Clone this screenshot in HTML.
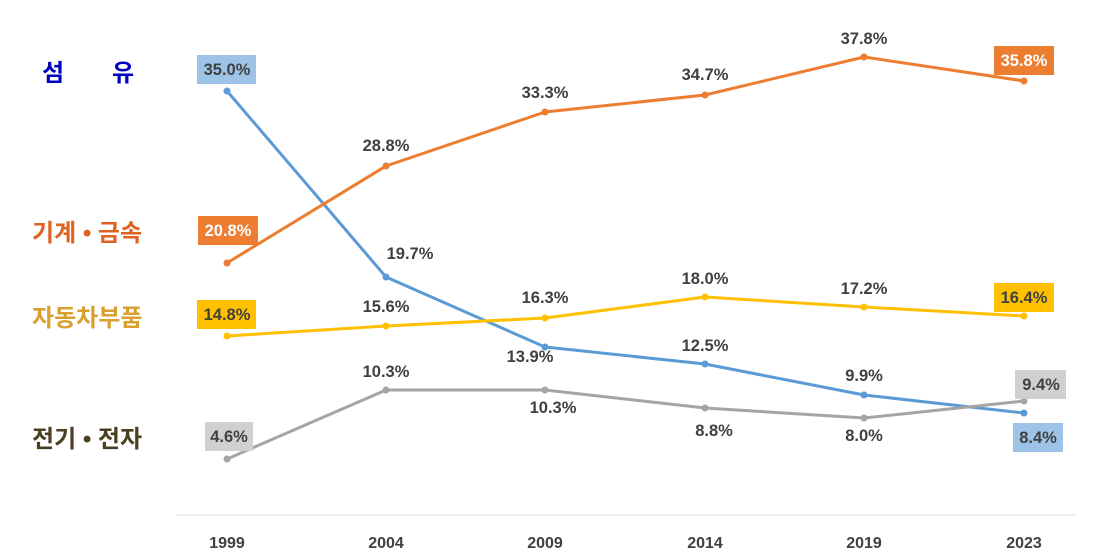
<!DOCTYPE html>
<html><head><meta charset="utf-8"><style>
html,body{margin:0;padding:0;background:#fff;}
svg{display:block;}
text{font-family:"Liberation Sans","Noto Sans CJK KR",sans-serif;font-weight:bold;}
.v{font-size:16.5px;fill:#404040;text-anchor:middle;}
.w{font-size:16.5px;fill:#fff;text-anchor:middle;}
.c{font-size:24px;}
.x{font-size:16px;fill:#404040;text-anchor:middle;}
</style></head><body>
<svg width="1117" height="557" viewBox="0 0 1117 557">
<line x1="176" y1="515" x2="1076" y2="515" stroke="#d9d9d9" stroke-width="1"/>
<g class="x">
<text x="227" y="548">1999</text><text x="386" y="548">2004</text><text x="545" y="548">2009</text>
<text x="705" y="548">2014</text><text x="864" y="548">2019</text><text x="1024" y="548">2023</text>
</g>
<text class="c" x="42" y="81" fill="#0000c0">섬</text>
<text class="c" x="112" y="81" fill="#0000c0">유</text>
<text class="c" x="32" y="241" fill="#e0621e">기계 • 금속</text>
<text class="c" x="32" y="326" fill="#d9a030">자동차부품</text>
<text class="c" x="32" y="447" fill="#4a3f20">전기 • 전자</text>
<g fill="none" stroke-width="3" stroke-linejoin="round">
<polyline stroke="#5b9bd5" points="227,91 386,277 545,347 705,364 864,395 1024,413"/>
<polyline stroke="#ed7d31" points="227,263 386,166 545,112 705,95 864,57 1024,81"/>
<polyline stroke="#ffc000" points="227,336 386,326 545,318 705,297 864,307 1024,316"/>
<polyline stroke="#a5a5a5" points="227,459 386,390 545,390 705,408 864,418 1024,401"/>
</g>
<g fill="#5b9bd5"><circle cx="227" cy="91" r="3.5"/><circle cx="386" cy="277" r="3.5"/><circle cx="545" cy="347" r="3.5"/><circle cx="705" cy="364" r="3.5"/><circle cx="864" cy="395" r="3.5"/><circle cx="1024" cy="413" r="3.5"/></g>
<g fill="#ed7d31"><circle cx="227" cy="263" r="3.5"/><circle cx="386" cy="166" r="3.5"/><circle cx="545" cy="112" r="3.5"/><circle cx="705" cy="95" r="3.5"/><circle cx="864" cy="57" r="3.5"/><circle cx="1024" cy="81" r="3.5"/></g>
<g fill="#ffc000"><circle cx="227" cy="336" r="3.5"/><circle cx="386" cy="326" r="3.5"/><circle cx="545" cy="318" r="3.5"/><circle cx="705" cy="297" r="3.5"/><circle cx="864" cy="307" r="3.5"/><circle cx="1024" cy="316" r="3.5"/></g>
<g fill="#a5a5a5"><circle cx="227" cy="459" r="3.5"/><circle cx="386" cy="390" r="3.5"/><circle cx="545" cy="390" r="3.5"/><circle cx="705" cy="408" r="3.5"/><circle cx="864" cy="418" r="3.5"/><circle cx="1024" cy="401" r="3.5"/></g>
<rect x="197" y="55" width="59" height="29" fill="#9dc3e6"/>
<rect x="198" y="216" width="60" height="29" fill="#ed7d31"/>
<rect x="197" y="300" width="59" height="29" fill="#ffc000"/>
<rect x="205" y="422" width="48" height="29" fill="#d0d0d0"/>
<rect x="994" y="46" width="60" height="29" fill="#ed7d31"/>
<rect x="994" y="283" width="60" height="29" fill="#ffc000"/>
<rect x="1015" y="370" width="51" height="29" fill="#d0d0d0"/>
<rect x="1013" y="423" width="50" height="29" fill="#9dc3e6"/>
<text class="v" x="227" y="75">35.0%</text>
<text class="w" x="228" y="236">20.8%</text>
<text class="v" x="227" y="320">14.8%</text>
<text class="v" x="229" y="442">4.6%</text>
<text class="w" x="1024" y="66">35.8%</text>
<text class="v" x="1024" y="303">16.4%</text>
<text class="v" x="1041" y="390">9.4%</text>
<text class="v" x="1038" y="443">8.4%</text>
<text class="v" x="410" y="259">19.7%</text>
<text class="v" x="530" y="362">13.9%</text>
<text class="v" x="705" y="351">12.5%</text>
<text class="v" x="864" y="381">9.9%</text>
<text class="v" x="386" y="151">28.8%</text>
<text class="v" x="545" y="98">33.3%</text>
<text class="v" x="705" y="80">34.7%</text>
<text class="v" x="864" y="44">37.8%</text>
<text class="v" x="386" y="312">15.6%</text>
<text class="v" x="545" y="303">16.3%</text>
<text class="v" x="705" y="284">18.0%</text>
<text class="v" x="864" y="294">17.2%</text>
<text class="v" x="386" y="377">10.3%</text>
<text class="v" x="553" y="413">10.3%</text>
<text class="v" x="714" y="436">8.8%</text>
<text class="v" x="864" y="441">8.0%</text>
</svg>
</body></html>
